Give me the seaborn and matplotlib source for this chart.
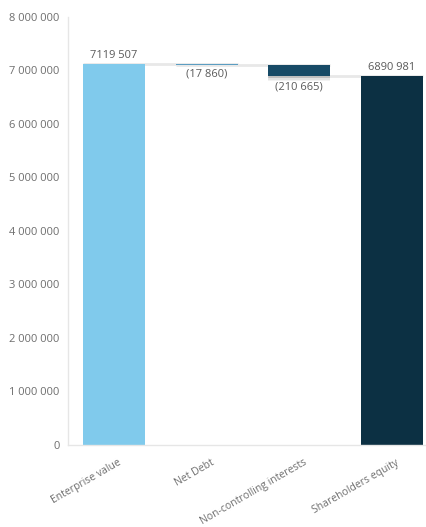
import matplotlib
matplotlib.use("Agg")
import matplotlib.pyplot as plt
import matplotlib.patheffects as pe
import matplotlib.transforms as mtransforms
from matplotlib.ticker import FuncFormatter
import seaborn as sns

# Bridge from enterprise value to shareholders' equity
categories = ["Enterprise value", "Net Debt", "Non-controlling interests", "Shareholders equity"]
changes = [7119507, -17860, -210665, 6890981]
kinds = ["total", "delta", "delta", "total"]
value_labels = ["7119 507", "(17 860)", "(210 665)", "6890 981"]
colors = ["#80CAEC", "#5C9EC2", "#174A66", "#0C3043"]

# Compute bar bottoms / heights for a waterfall
bottoms, heights, running = [], [], 0
for c, k in zip(changes, kinds):
    if k == "total":
        bottoms.append(0)
        heights.append(c)
        running = c
    else:
        new = running + c
        bottoms.append(min(running, new))
        heights.append(abs(c))
        running = new

sns.set_style("white")
plt.rcParams["font.family"] = ["Open Sans", "DejaVu Sans"]

fig = plt.figure(figsize=(4.27, 5.27), dpi=100)
ax = fig.add_axes([0.159, 0.156, 0.867, 0.812])

sns.barplot(x=categories, y=heights, ax=ax, width=0.67, saturation=1,
            color=colors[0])
for patch, b, col in zip(ax.patches, bottoms, colors):
    patch.set_y(b)
    patch.set_facecolor(col)
    patch.set_edgecolor("none")

# soft shadow on the non-controlling interests bar
shadow = [pe.SimplePatchShadow(offset=(0, -o), shadow_rgbFace="#000000", alpha=a)
          for o, a in [(3.5, 0.05), (2.5, 0.06), (1.5, 0.08)]]
ax.patches[2].set_path_effects(shadow + [pe.Normal()])

# connector lines between consecutive bars
levels = [changes[0], changes[0] + changes[1], changes[0] + changes[1] + changes[2]]
half = 0.67 / 2
for i, lvl in enumerate(levels):
    ax.plot([i - half, i + 1 + half], [lvl, lvl], color="#E8E8E8", lw=2,
            zorder=0.5, solid_capstyle="butt")

# value labels
txt_kw = dict(ha="center", fontsize=8, color="#5A5A5A")
ax.text(0, heights[0] + 60000, value_labels[0], va="bottom", **txt_kw)
ax.text(1, bottoms[1] - 60000, value_labels[1], va="top", **txt_kw)
ax.text(2, bottoms[2] - 90000, value_labels[2], va="top", **txt_kw)
ax.text(3, heights[3] + 60000, value_labels[3], va="bottom", **txt_kw)

ax.set_ylim(0, 8000000)
ax.set_xlim(-0.5, 3.5)
ax.set_yticks(range(0, 8000001, 1000000))
ax.yaxis.set_major_formatter(FuncFormatter(lambda v, p: f"{int(v):,}".replace(",", " ")))
ax.tick_params(axis="both", length=0, labelsize=8, labelcolor="#6E6E6E")
ax.tick_params(axis="y", pad=6)
ax.tick_params(axis="x", pad=9, labelsize=7.5)
shift = mtransforms.ScaledTranslation(4 / 100, 0, fig.dpi_scale_trans)
for lab in ax.get_xticklabels():
    lab.set_rotation(30)
    lab.set_ha("right")
    lab.set_rotation_mode("anchor")
    lab.set_transform(lab.get_transform() + shift)

for s in ["top", "right"]:
    ax.spines[s].set_visible(False)
for s in ["left", "bottom"]:
    ax.spines[s].set_color("#E6E6E6")
    ax.spines[s].set_linewidth(1)

fig.savefig("out.png", dpi=100)
